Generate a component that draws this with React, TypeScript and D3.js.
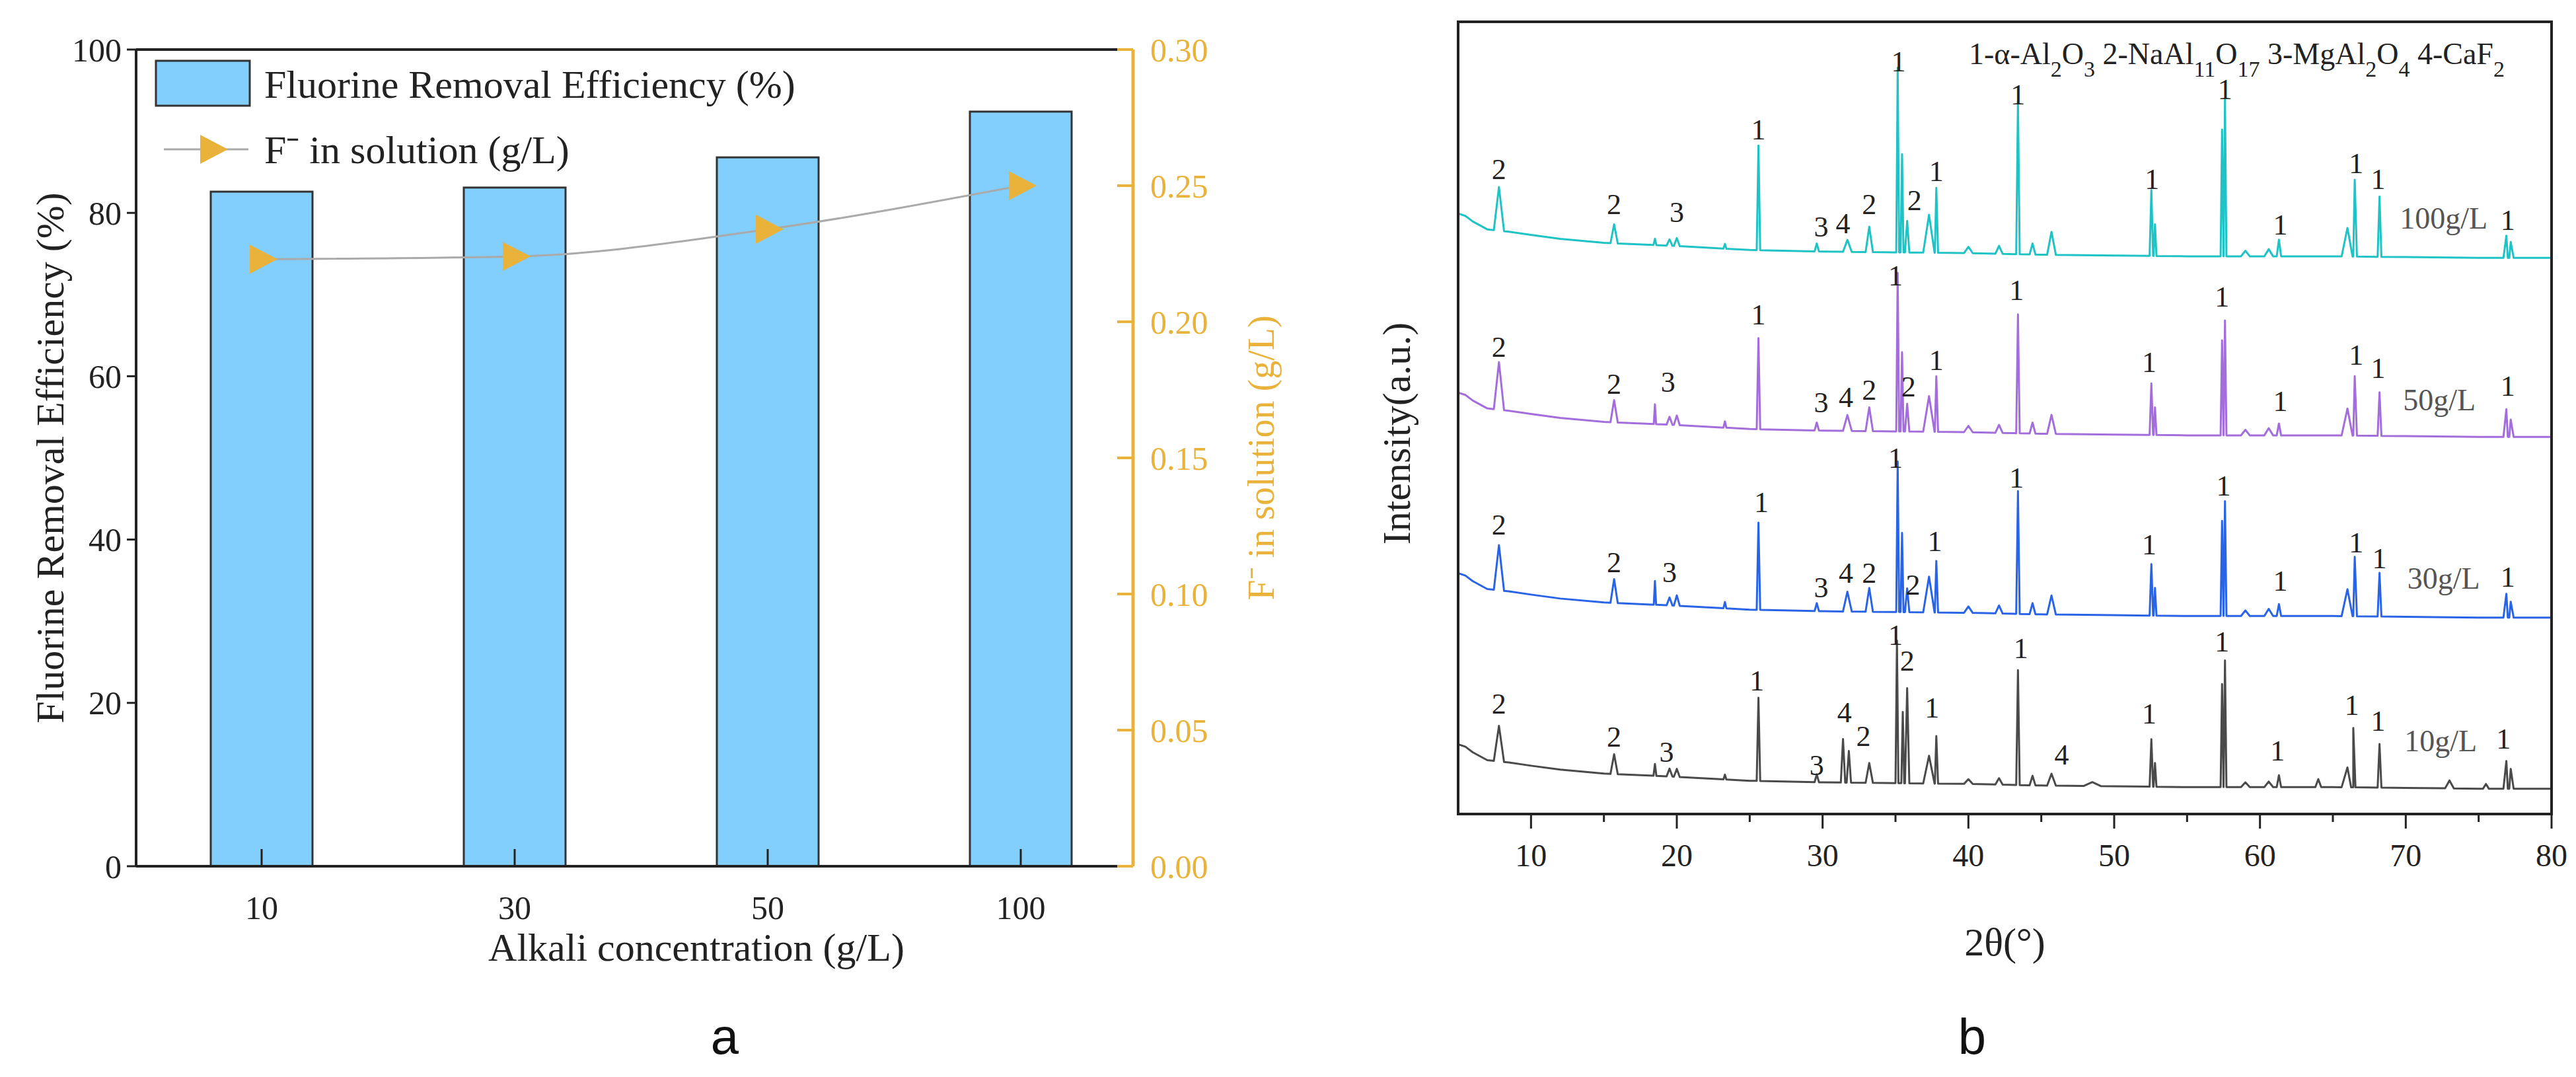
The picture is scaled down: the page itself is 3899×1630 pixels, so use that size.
import React from "react";
import * as d3 from "d3";

const categories = ["10", "30", "50", "100"];
const efficiency = [82.6, 83.1, 86.8, 92.4];
const fluoride = [0.223, 0.224, 0.234, 0.25];
const leftTicks = [0, 20, 40, 60, 80, 100];
const rightTicks = [0, 0.05, 0.1, 0.15, 0.2, 0.25, 0.3];
const xrdTicks = [10, 20, 30, 40, 50, 60, 70, 80];

const baseAngles = [5, 5.5, 6, 7, 8.5, 10, 12, 15, 20, 25, 30, 35, 40, 45, 50, 55, 60, 65, 70, 75, 80];
const baseOffsets = [5.6, 5.3, 4.6, 3.6, 3.3, 2.9, 2.4, 1.9, 1.5, 1.0, 0.8, 0.7, 0.6, 0.4, 0.3, 0.2, 0.2, 0.2, 0.1, 0.0, 0.0];

type Peak = [number, number, number];
const peaks100: Peak[] = [[7.8, 5.5, 0.35], [15.7, 2.4, 0.25], [18.5, 0.8, 0.1], [19.5, 0.8, 0.2], [20.0, 1.0, 0.2], [23.3, 0.6, 0.1], [25.6, 13.2, 0.12], [29.6, 1.0, 0.15], [31.7, 1.5, 0.3], [33.2, 3.2, 0.25], [35.15, 23.3, 0.1], [35.45, 12.4, 0.1], [35.8, 4.0, 0.15], [37.3, 4.8, 0.4], [37.8, 8.2, 0.12], [40.0, 0.8, 0.3], [42.1, 1.0, 0.25], [43.4, 19.3, 0.12], [44.4, 1.4, 0.2], [45.7, 2.9, 0.3], [52.55, 8.3, 0.12], [52.8, 4.0, 0.1], [57.4, 16.0, 0.1], [57.6, 19.8, 0.1], [59, 0.7, 0.3], [60.6, 0.9, 0.3], [61.3, 2.1, 0.15], [66.0, 3.6, 0.4], [66.5, 9.7, 0.15], [68.2, 7.6, 0.13], [76.9, 2.8, 0.2], [77.2, 2.0, 0.2]];
const peaks50: Peak[] = [[7.8, 6.0, 0.35], [15.7, 2.8, 0.25], [18.5, 2.5, 0.08], [19.5, 1.0, 0.2], [20.0, 1.2, 0.2], [23.3, 0.8, 0.1], [25.6, 11.5, 0.12], [29.6, 1.0, 0.15], [31.7, 2.0, 0.3], [33.2, 3.0, 0.25], [35.15, 20.0, 0.1], [35.45, 10.0, 0.1], [35.8, 3.5, 0.15], [37.3, 4.5, 0.4], [37.8, 7.0, 0.12], [40.0, 0.8, 0.3], [42.1, 1.0, 0.25], [43.4, 15.0, 0.12], [44.4, 1.4, 0.2], [45.7, 2.4, 0.3], [52.55, 6.5, 0.12], [52.8, 3.5, 0.1], [57.4, 12.0, 0.1], [57.6, 14.5, 0.1], [59, 0.7, 0.3], [60.6, 0.9, 0.3], [61.3, 1.5, 0.15], [66.0, 3.4, 0.4], [66.5, 7.5, 0.15], [68.2, 5.5, 0.13], [76.9, 3.5, 0.2], [77.2, 2.2, 0.2]];
const peaks30: Peak[] = [[7.8, 5.7, 0.35], [15.7, 3.0, 0.25], [18.5, 3.0, 0.08], [19.5, 1.0, 0.2], [20.0, 1.3, 0.2], [23.3, 0.8, 0.1], [25.6, 11.0, 0.12], [29.6, 1.0, 0.15], [31.7, 2.5, 0.3], [33.2, 3.0, 0.25], [35.15, 19.0, 0.1], [35.45, 10.0, 0.1], [35.8, 3.0, 0.15], [37.3, 4.5, 0.4], [37.8, 6.5, 0.12], [40.0, 0.8, 0.3], [42.1, 1.0, 0.25], [43.4, 15.5, 0.12], [44.4, 1.4, 0.2], [45.7, 2.4, 0.3], [52.55, 6.5, 0.12], [52.8, 3.5, 0.1], [57.4, 12.0, 0.1], [57.6, 14.5, 0.1], [59, 0.7, 0.3], [60.6, 0.9, 0.3], [61.3, 1.5, 0.15], [66.0, 3.4, 0.4], [66.5, 7.5, 0.15], [68.2, 5.5, 0.13], [76.9, 3.0, 0.2], [77.2, 2.0, 0.2]];
const peaks10: Peak[] = [[7.8, 4.5, 0.35], [15.7, 2.5, 0.25], [18.5, 1.5, 0.1], [19.5, 1.0, 0.2], [20.0, 1.0, 0.2], [23.3, 0.6, 0.1], [25.6, 10.5, 0.12], [29.6, 1.0, 0.15], [31.4, 5.5, 0.15], [31.8, 4.0, 0.15], [33.2, 2.5, 0.25], [35.1, 18.0, 0.1], [35.5, 9.0, 0.1], [35.8, 12.0, 0.15], [37.3, 3.5, 0.4], [37.8, 6.0, 0.12], [40.0, 0.6, 0.3], [42.1, 0.8, 0.25], [43.4, 14.5, 0.12], [44.4, 1.2, 0.2], [45.7, 1.5, 0.3], [48.5, 0.5, 0.6], [52.55, 6.0, 0.12], [52.8, 3.0, 0.1], [57.4, 13.0, 0.1], [57.6, 16.0, 0.1], [59, 0.6, 0.3], [60.6, 0.7, 0.3], [61.3, 1.5, 0.15], [64.0, 1.0, 0.2], [66.0, 2.5, 0.4], [66.4, 7.5, 0.15], [68.2, 5.5, 0.13], [73.0, 1.0, 0.3], [75.5, 0.6, 0.2], [76.9, 3.5, 0.2], [77.2, 2.5, 0.2]];

const seriesNames = ["100g/L", "50g/L", "30g/L", "10g/L"];
const seriesLevels = [70.2, 47.6, 24.8, 3.2];
const seriesColors = ["#1fc3c6", "#a46ddc", "#2a64e6", "#4a4a4a"];
const seriesPeaks = [peaks100, peaks50, peaks30, peaks10];
const nameLabelPos: [number, number][] = [[72.6, 75.2], [72.3, 52.3], [72.6, 29.8], [72.4, 9.3]];

type Lab = [number, string, number];
const labels100: Lab[] = [[7.8, "2", 81.4], [15.7, "2", 77.0], [20.0, "3", 76.0], [25.6, "1", 86.4], [29.9, "3", 74.2], [31.4, "4", 74.6], [33.2, "2", 77.0], [35.2, "1", 95.0], [36.3, "2", 77.5], [37.8, "1", 81.2], [43.4, "1", 90.9], [52.6, "1", 80.2], [57.6, "1", 91.5], [61.4, "1", 74.4], [66.6, "1", 82.2], [68.1, "1", 80.2], [77.0, "1", 75.0]];
const labels50: Lab[] = [[7.8, "2", 59.0], [15.7, "2", 54.3], [19.4, "3", 54.6], [25.6, "1", 63.1], [29.9, "3", 52.0], [31.6, "4", 52.7], [33.2, "2", 53.6], [35.0, "1", 68.0], [35.9, "2", 54.0], [37.8, "1", 57.3], [43.3, "1", 66.2], [52.4, "1", 57.1], [57.4, "1", 65.3], [61.4, "1", 52.2], [66.6, "1", 58.0], [68.1, "1", 56.3], [77.0, "1", 54.1]];
const labels30: Lab[] = [[7.8, "2", 36.6], [15.7, "2", 31.8], [19.5, "3", 30.6], [25.8, "1", 39.4], [29.9, "3", 28.6], [31.6, "4", 30.5], [33.2, "2", 30.5], [35.0, "1", 45.0], [36.2, "2", 29.0], [37.7, "1", 34.5], [43.3, "1", 42.5], [52.4, "1", 34.1], [57.5, "1", 41.5], [61.4, "1", 29.5], [66.6, "1", 34.3], [68.2, "1", 32.3], [77.0, "1", 30.0]];
const labels10: Lab[] = [[7.8, "2", 14.0], [15.7, "2", 9.8], [19.3, "3", 7.9], [25.5, "1", 16.9], [29.6, "3", 6.2], [31.5, "4", 12.9], [32.8, "2", 9.9], [35.0, "1", 22.6], [35.8, "2", 19.4], [37.5, "1", 13.5], [43.6, "1", 21.0], [46.4, "4", 7.5], [52.4, "1", 12.7], [57.4, "1", 21.8], [61.2, "1", 8.0], [66.3, "1", 13.8], [68.1, "1", 11.8], [76.7, "1", 9.5]];
const seriesLabels = [labels100, labels50, labels30, labels10];

const serif = "'Liberation Serif', 'Times New Roman', serif";
const ORANGE = "#e9b23a";

function buildCurve(level: number, pk: Peak[]): [number, number][] {
  const base = d3.scaleLinear().domain(baseAngles).range(baseOffsets);
  const pts: [number, number, boolean][] = baseAngles.map((a, i) => [a, level + baseOffsets[i], true]);
  pk.forEach(([a, h, w]) => {
    pts.push([a - w, level + base(a - w), false]);
    pts.push([a, level + base(a) + h, false]);
    pts.push([a + w, level + base(a + w), false]);
  });
  pts.sort((p, q) => p[0] - q[0]);
  return pts
    .filter(([a, , isBase]) => !isBase || !pk.some(([pa, , pw]) => a > pa - pw && a < pa + pw))
    .map(([a, v]) => [a, v] as [number, number]);
}

function PanelA() {
  const L = 206, R = 1715, T = 75, B = 1311;
  const centers = [396, 779, 1163, 1545];
  const x = d3.scaleLinear().domain([0, 3]).range([centers[0], centers[3]]);
  const y = d3.scaleLinear().domain([0, 100]).range([B, T]);
  const y2 = d3.scaleLinear().domain([0, 0.3]).range([B, T]);
  const bw = 154;
  const line = d3.line<number>().x((_, i) => x(i)).y((d) => y2(d)).curve(d3.curveMonotoneX);
  const tri = (cx: number, cy: number, s: number) => `M${cx - s * 0.45},${cy - s * 0.55}L${cx + s * 0.6},${cy}L${cx - s * 0.45},${cy + s * 0.55}Z`;
  return (
    <g fontFamily={serif}>
      {efficiency.map((v, i) => (
        <rect key={i} x={x(i) - bw / 2} y={y(v)} width={bw} height={B - y(v)} fill="#82cffd" stroke="#333" strokeWidth={3} />
      ))}
      <path d={line(fluoride) || ""} fill="none" stroke="#aaaaaa" strokeWidth={3} />
      {fluoride.map((v, i) => (
        <path key={i} d={tri(x(i), y2(v), 40)} fill={ORANGE} />
      ))}
      <line x1={L} x2={R} y1={T} y2={T} stroke="#222" strokeWidth={4} />
      <line x1={L} x2={R} y1={B} y2={B} stroke="#222" strokeWidth={4} />
      <line x1={L} x2={L} y1={T} y2={B} stroke="#222" strokeWidth={4} />
      <line x1={R} x2={R} y1={T} y2={B} stroke={ORANGE} strokeWidth={5} />
      {leftTicks.map((t) => (
        <g key={t}>
          <line x1={L - 14} x2={L} y1={y(t)} y2={y(t)} stroke="#222" strokeWidth={3} />
          <text x={L - 22} y={y(t)} dy="0.35em" textAnchor="end" fontSize={50} fill="#222">{t}</text>
        </g>
      ))}
      {rightTicks.map((t) => (
        <g key={t}>
          <line x1={R - 24} x2={R} y1={y2(t)} y2={y2(t)} stroke={ORANGE} strokeWidth={4} />
          <text x={R + 26} y={y2(t)} dy="0.35em" fontSize={50} fill={ORANGE}>{t.toFixed(2)}</text>
        </g>
      ))}
      {categories.map((c, i) => (
        <g key={c}>
          <line x1={x(i)} x2={x(i)} y1={B} y2={B - 26} stroke="#222" strokeWidth={3} />
          <text x={x(i)} y={B + 62} dy="0.35em" textAnchor="middle" fontSize={50} fill="#222">{c}</text>
        </g>
      ))}
      <text x={1054} y={1433} dy="0.35em" textAnchor="middle" fontSize={60} fill="#222">Alkali concentration (g/L)</text>
      <text transform={`translate(75,${(T + B) / 2}) rotate(-90)`} dy="0.35em" textAnchor="middle" fontSize={60} fill="#222">Fluorine Removal Efficiency (%)</text>
      <text transform={`translate(1908,${(T + B) / 2}) rotate(-90)`} dy="0.35em" textAnchor="middle" fontSize={56} fill={ORANGE}>F⁻ in solution (g/L)</text>
      <rect x={236} y={92} width={142} height={68} fill="#82cffd" stroke="#333" strokeWidth={3} />
      <text x={400} y={148} fontSize={60} fill="#222">Fluorine Removal Efficiency (%)</text>
      <line x1={248} x2={376} y1={226} y2={226} stroke="#aaaaaa" strokeWidth={3} />
      <path d={tri(321, 226, 40)} fill={ORANGE} />
      <text x={400} y={247} fontSize={60} fill="#222">F⁻ in solution (g/L)</text>
      <text x={1097} y={1595} textAnchor="middle" fontSize={76} fontFamily="'Liberation Sans', Arial, sans-serif" fill="#111">a</text>
    </g>
  );
}

function PanelB() {
  const L = 2207, R = 3862, T = 33, B = 1232;
  const x = d3.scaleLinear().domain([5, 80]).range([L, R]);
  const y = d3.scaleLinear().domain([0, 100]).range([B, T]);
  const line = d3.line<[number, number]>().x((d) => x(d[0])).y((d) => y(d[1]));
  const minor = d3.range(15, 80, 10);
  const sub = 34;
  return (
    <g fontFamily={serif}>
      {seriesNames.map((n, si) => (
        <g key={n}>
          <path d={line(buildCurve(seriesLevels[si], seriesPeaks[si])) || ""} fill="none" stroke={seriesColors[si]} strokeWidth={3} strokeLinejoin="round" />
          {seriesLabels[si].map(([a, t, v], k) => (
            <text key={k} x={x(a)} y={y(v)} dy="0.35em" textAnchor="middle" fontSize={44} fill="#222">{t}</text>
          ))}
          <text x={x(nameLabelPos[si][0])} y={y(nameLabelPos[si][1])} dy="0.35em" textAnchor="middle" fontSize={46} fill="#555">{n}</text>
        </g>
      ))}
      <rect x={L} y={T} width={R - L} height={B - T} fill="none" stroke="#222" strokeWidth={4} />
      {xrdTicks.map((t) => (
        <g key={t}>
          <line x1={x(t)} x2={x(t)} y1={B} y2={B + 22} stroke="#222" strokeWidth={3} />
          <text x={x(t)} y={B + 62} dy="0.35em" textAnchor="middle" fontSize={48} fill="#222">{t}</text>
        </g>
      ))}
      {minor.map((t) => (
        <line key={t} x1={x(t)} x2={x(t)} y1={B} y2={B + 12} stroke="#222" strokeWidth={3} />
      ))}
      <text x={(L + R) / 2} y={1425} dy="0.35em" textAnchor="middle" fontSize={60} fill="#222">2θ(°)</text>
      <text transform={`translate(2113,656) rotate(-90)`} dy="0.35em" textAnchor="middle" fontSize={60} fill="#222">Intensity(a.u.)</text>
      <text x={2980} y={y(96)} dy="0.35em" fontSize={46} fill="#222">
        1-α-Al<tspan baselineShift="sub" fontSize={sub}>2</tspan>O<tspan baselineShift="sub" fontSize={sub}>3</tspan>
        {" "}2-NaAl<tspan baselineShift="sub" fontSize={sub}>11</tspan>O<tspan baselineShift="sub" fontSize={sub}>17</tspan>
        {" "}3-MgAl<tspan baselineShift="sub" fontSize={sub}>2</tspan>O<tspan baselineShift="sub" fontSize={sub}>4</tspan>
        {" "}4-CaF<tspan baselineShift="sub" fontSize={sub}>2</tspan>
      </text>
      <text x={2985} y={1595} textAnchor="middle" fontSize={76} fontFamily="'Liberation Sans', Arial, sans-serif" fill="#111">b</text>
    </g>
  );
}

export default function App() {
  return (
    <svg width={3899} height={1630} style={{ position: "absolute", left: 0, top: 0, background: "#fff" }}>
      <rect width={3899} height={1630} fill="#fff" />
      <PanelA />
      <PanelB />
    </svg>
  );
}
